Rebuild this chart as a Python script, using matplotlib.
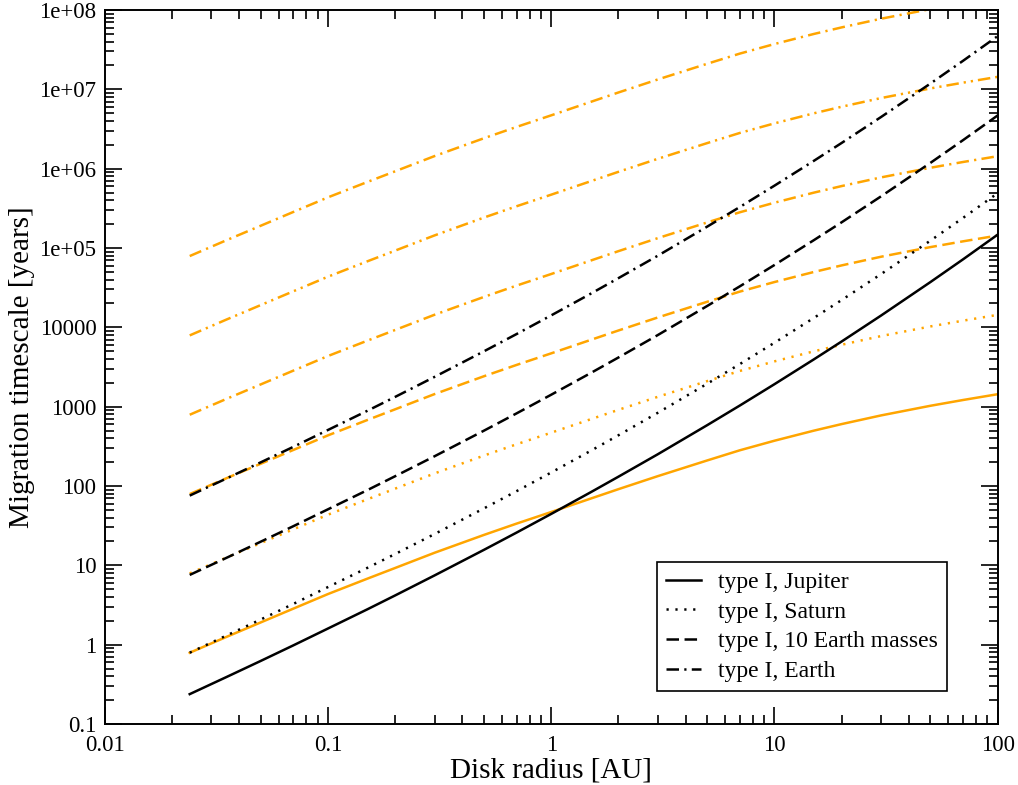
import matplotlib
matplotlib.use("Agg")
import matplotlib.pyplot as plt
from matplotlib.ticker import FixedLocator, LogLocator, NullFormatter

# disk radius [AU] at which the curves were read
radius = [0.024, 0.035, 0.05, 0.07, 0.1, 0.15, 0.2, 0.3, 0.5, 0.7, 1,
          1.5, 2, 3, 5, 7, 10, 15, 20, 30, 50, 70, 100]

# type I migration timescales [years] (black curves)
type1_jupiter = [0.238, 0.390, 0.625, 0.982, 1.60, 2.79, 4.18, 7.46, 15.7, 25.9, 44.5,
                 83.2, 131, 251, 585, 1034, 1919, 3936, 6627, 14040, 37210, 71950, 147200]
type1_saturn = [0.793, 1.30, 2.08, 3.27, 5.33, 9.29, 13.9, 24.8, 52.3, 86.2, 148,
                277, 436, 836, 1948, 3443, 6390, 13110, 22070, 46750, 123900, 239600, 490200]
type1_10earth = [7.57, 12.4, 19.9, 31.2, 50.9, 88.7, 133, 237, 499, 824, 1415,
                 2646, 4166, 7982, 18600, 32880, 61020, 125200, 210700, 446500,
                 1183000, 2288000, 4681000]
type1_earth = [75.7, 124, 199, 312, 509, 887, 1329, 2372, 4993, 8236, 14150,
               26460, 41660, 79820, 186000, 328800, 610200, 1252000, 2107000, 4465000,
               11830000, 22880000, 46810000]

# orange curves, one per decade
orange_1 = [0.791, 1.25, 1.91, 2.85, 4.35, 6.79, 9.27, 14.4, 24.2, 33.6, 47.0,
            69.3, 91.2, 133, 210, 282, 372, 498, 603, 775, 1026, 1213, 1435]
orange_2 = [7.91, 12.5, 19.1, 28.5, 43.5, 67.9, 92.7, 144, 242, 336, 470,
            693, 912, 1330, 2100, 2820, 3720, 4980, 6030, 7750, 10260, 12130, 14350]
orange_3 = [79.1, 125, 191, 285, 435, 679, 927, 1440, 2420, 3360, 4700,
            6930, 9120, 13300, 21000, 28200, 37200, 49800, 60300, 77500,
            102600, 121300, 143500]
orange_4 = [791, 1250, 1910, 2850, 4350, 6790, 9270, 14400, 24200, 33600, 47000,
            69300, 91200, 133000, 210000, 282000, 372000, 498000, 603000, 775000,
            1026000, 1213000, 1435000]
orange_5 = [7910, 12500, 19100, 28500, 43500, 67900, 92700, 144000, 242000, 336000,
            470000, 693000, 912000, 1330000, 2100000, 2820000, 3720000, 4980000,
            6030000, 7750000, 10260000, 12130000, 14350000]
orange_6 = [79100, 125000, 191000, 285000, 435000, 679000, 927000, 1440000, 2420000,
            3360000, 4700000, 6930000, 9120000, 13300000, 21000000, 28200000,
            37200000, 49800000, 60300000, 77500000, 102600000, 121300000, 143500000]

labels = ["type I, Jupiter", "type I, Saturn", "type I, 10 Earth masses", "type I, Earth"]

xticks = [0.01, 0.1, 1, 10, 100]
xticklabels = ["0.01", "0.1", "1", "10", "100"]
yticks = [0.1, 1, 10, 100, 1000, 1e4, 1e5, 1e6, 1e7, 1e8]
yticklabels = ["0.1", "1", "10", "100", "1000", "10000", "1e+05", "1e+06", "1e+07", "1e+08"]

plt.rcParams["font.family"] = ["Liberation Serif", "DejaVu Serif"]
plt.rcParams["lines.scale_dashes"] = False

ORANGE = "#FFA500"
LW = 1.8
solid = "-"
dotted = (0, (1.6, 4.8))
dashed = (0, (9.0, 4.0))
dashdot = (0, (9.0, 3.8, 1.6, 3.8))
dashdotdot = (0, (9.0, 3.6, 1.6, 3.6, 1.6, 3.6))


def main():
    fig = plt.figure(figsize=(10.18, 7.85), dpi=100)
    ax = fig.add_axes([0.103, 0.0777, 0.877, 0.9096])

    orange = [
        (orange_1, solid),
        (orange_2, dotted),
        (orange_3, dashed),
        (orange_4, dashdot),
        (orange_5, dashdotdot),
        (orange_6, dashdot),
    ]
    for vals, ls in orange:
        ax.plot(radius, vals, color=ORANGE, lw=LW, linestyle=ls)

    black = [
        (type1_jupiter, solid),
        (type1_saturn, dotted),
        (type1_10earth, dashed),
        (type1_earth, dashdot),
    ]
    handles = []
    for (vals, ls), lab in zip(black, labels):
        (h,) = ax.plot(radius, vals, color="black", lw=LW, linestyle=ls, label=lab)
        handles.append(h)

    ax.set_xscale("log")
    ax.set_yscale("log")
    ax.set_xlim(0.01, 100)
    ax.set_ylim(0.1, 1e8)

    ax.xaxis.set_major_locator(FixedLocator(xticks))
    ax.set_xticklabels(xticklabels)
    ax.yaxis.set_major_locator(FixedLocator(yticks))
    ax.set_yticklabels(yticklabels)
    for axis in (ax.xaxis, ax.yaxis):
        axis.set_minor_locator(LogLocator(base=10, subs=range(2, 10), numticks=20))
        axis.set_minor_formatter(NullFormatter())

    ax.tick_params(which="both", direction="in", top=True, right=True, width=1.2)
    ax.tick_params(which="major", length=12, labelsize=16.5)
    ax.tick_params(which="minor", length=6.5)
    ax.tick_params(axis="x", which="major", pad=8)
    ax.tick_params(axis="y", which="major", pad=6)
    for sp in ax.spines.values():
        sp.set_linewidth(1.4)

    ax.set_xlabel("Disk radius [AU]", fontsize=21, labelpad=1)
    ax.set_ylabel("Migration timescale [years]", fontsize=21, labelpad=3)

    leg = ax.legend(
        handles=handles,
        loc="lower left",
        bbox_to_anchor=(0.618, 0.046),
        borderaxespad=0,
        fontsize=17,
        frameon=True,
        fancybox=False,
        handlelength=1.5,
        handletextpad=0.72,
        labelspacing=0.35,
        borderpad=0.38,
    )
    frame = leg.get_frame()
    frame.set_edgecolor("black")
    frame.set_linewidth(1.2)
    frame.set_alpha(1)

    fig.savefig("out.png", dpi=100)


if __name__ == "__main__":
    main()
